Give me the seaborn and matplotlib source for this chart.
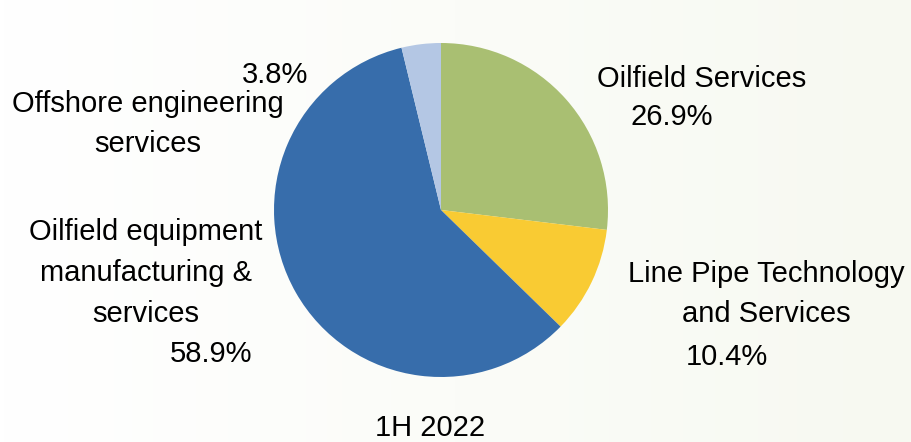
import numpy as np
import matplotlib
matplotlib.use("Agg")
import matplotlib.pyplot as plt
import seaborn as sns

# Revenue split by segment, 1H 2022
segments = [
    "Oilfield Services",
    "Line Pipe Technology\nand Services",
    "Oilfield equipment\nmanufacturing &\nservices",
    "Offshore engineering\nservices",
]
shares = [26.9, 10.4, 58.9, 3.8]
colors = ["#A9BF72", "#F9CB33", "#376DAB", "#B4C7E4"]
period = "1H 2022"

sns.set_theme(style="white")
plt.rcParams["font.family"] = ["Liberation Sans", "DejaVu Sans"]

W, H = 911, 442
fig = plt.figure(figsize=(W / 100, H / 100), dpi=100)
ax = fig.add_axes([0, 0, 1, 1])
ax.set_xlim(0, W)
ax.set_ylim(0, H)
ax.axis("off")

# soft white-to-sage background wash
grad = np.linspace(0, 1, 256)[None, :]
bg = matplotlib.colors.LinearSegmentedColormap.from_list("bg", ["#FFFFFF", "#F7F9F1"])
ax.imshow(grad, cmap=bg, extent=(0, W, 0, H), aspect="auto", zorder=0)

cx, cy, r = 441, H - 210, 167
ax.pie(shares, colors=colors, startangle=90, counterclock=False,
       center=(cx, cy), radius=r, frame=True,
       wedgeprops=dict(linewidth=0, zorder=2))
ax.set_xlim(0, W)
ax.set_ylim(0, H)
ax.set_aspect("auto")
ax.axis("off")

fs = 21
ls = 1.58

def put(x, y, s, ha="center"):
    ax.text(x, H - y, s, ha=ha, va="center", fontsize=fs, color="black",
            linespacing=ls, zorder=5)

pct = [f"{v:.1f}%" for v in shares]

# Oilfield Services
put(702, 79, segments[0])
put(672, 117, pct[0])
# Line Pipe
put(766, 294, segments[1])
put(727, 357, pct[1])
# Oilfield equipment
put(146, 273, segments[2])
put(211, 354, pct[2])
# Offshore
put(148, 124, segments[3])
put(275, 75, pct[3])

put(430, 428, period)

fig.savefig("out.png", dpi=100)
